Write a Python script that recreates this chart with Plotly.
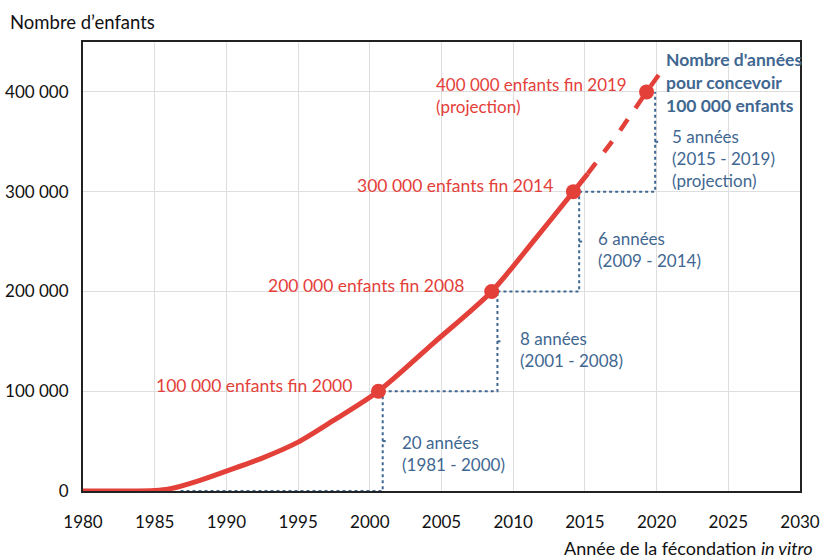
import plotly.graph_objects as go

RED = "#E4403A"
BLUE = "#3F6791"
FONT = "Lato"

# Cumulative births curve (solid part)
curve_years = [1980, 1983, 1985, 1986, 1988, 1990, 1992.5, 1995, 1997.5, 2000.6, 2004.5, 2008.5, 2011.5, 2014.2, 2015.2]
curve_values = [0, 0, 500, 2000, 10000, 20000, 33000, 49000, 71000, 100000, 149000, 200000, 252000, 300000, 318000]

# Projection (dashed)
proj_years = [2015.2, 2017.3, 2019.3, 2020.3]
proj_values = [318000, 358000, 400000, 420000]

# Milestones
milestone_years = [2000.6, 2008.5, 2014.2, 2019.3]
milestone_values = [100000, 200000, 300000, 400000]
milestone_labels = ["100 000 enfants fin 2000", "200 000 enfants fin 2008",
                    "300 000 enfants fin 2014", "400 000 enfants fin 2019<br>(projection)"]

# Brackets (years needed for each 100 000)
bracket_start = [1986.8, 2000.9, 2008.9, 2014.6]
bracket_end = [2000.9, 2008.9, 2014.6, 2019.9]
bracket_low = [0, 100000, 200000, 300000]
bracket_high = [100000, 200000, 300000, 400000]
bracket_labels = ["20 années<br>(1981 - 2000)", "8 années<br>(2001 - 2008)",
                  "6 années<br>(2009 - 2014)", "5 années<br>(2015 - 2019)<br>(projection)"]

x_ticks = list(range(1980, 2031, 5))
y_ticks = [0, 100000, 200000, 300000, 400000]
y_tick_labels = ["0", "100 000", "200 000", "300 000", "400 000"]

fig = go.Figure()

# brackets
for s, e, lo, hi in zip(bracket_start, bracket_end, bracket_low, bracket_high):
    mid = (lo + hi) / 2
    fig.add_trace(go.Scatter(x=[s, e, e], y=[lo, lo, hi], mode="lines",
                             line=dict(color=BLUE, width=2, dash="dot"),
                             hoverinfo="skip", showlegend=False))
    fig.add_trace(go.Scatter(x=[e, e + 0.4], y=[mid, mid], mode="lines",
                             line=dict(color=BLUE, width=2, dash="dot"),
                             hoverinfo="skip", showlegend=False))

fig.add_trace(go.Scatter(x=curve_years, y=curve_values, mode="lines",
                         line=dict(color=RED, width=5, shape="spline", smoothing=0.8),
                         showlegend=False))
fig.add_trace(go.Scatter(x=proj_years, y=proj_values, mode="lines",
                         line=dict(color=RED, width=4.5, dash="dash"),
                         showlegend=False))
fig.add_trace(go.Scatter(x=milestone_years, y=milestone_values, mode="markers",
                         marker=dict(color=RED, size=15),
                         showlegend=False))

# labels
red_pos = [(1998.9, 106000, "right"), (2006.7, 206000, "right"),
           (2012.9, 306000, "right"), (2004.5, 396000, "left")]
red_sizes = [17.5, 17.5, 17.5, 17]
for (x, y, anc), t, sz in zip(red_pos, milestone_labels, red_sizes):
    fig.add_annotation(x=x, y=y, text=t, showarrow=False, xanchor=anc, yanchor="middle",
                       align="left", font=dict(family=FONT, size=sz, color=RED))

blue_pos = [(2002.1, 38000), (2010.3, 142000), (2015.8, 242000), (2020.9, 333000)]
for (x, y), t in zip(blue_pos, bracket_labels):
    fig.add_annotation(x=x, y=y, text=t, showarrow=False, xanchor="left", yanchor="middle",
                       align="left", font=dict(family=FONT, size=17, color=BLUE))

fig.add_annotation(x=2020.55, y=409000, text="<b>Nombre d'années<br>pour concevoir<br>100 000 enfants</b>",
                   showarrow=False, xanchor="left", yanchor="middle", align="left",
                   font=dict(family=FONT, size=17.5, color=BLUE))

fig.add_annotation(xref="paper", yref="paper", x=-0.1046, y=1.0445, text="Nombre d’enfants",
                   showarrow=False, xanchor="left", yanchor="middle",
                   font=dict(family=FONT, size=18.5, color="#111"))
fig.add_annotation(xref="paper", yref="paper", x=1.021, y=-0.127, text="Année de la fécondation <i>in vitro</i>",
                   showarrow=False, xanchor="right", yanchor="middle",
                   font=dict(family=FONT, size=18, color="#111"))

fig.update_layout(
    width=822, height=559,
    margin=dict(l=83, r=22, t=42, b=68),
    plot_bgcolor="white", paper_bgcolor="white",
    font=dict(family=FONT, size=17, color="#111"),
    xaxis=dict(range=[1980, 2030], tickvals=x_ticks, showgrid=True, gridcolor="#DEDEDE",
               gridwidth=1, showline=True, linecolor="#222", linewidth=2, mirror=True,
               ticks="", zeroline=False, ticklabelstandoff=15, automargin=False,
               tickfont=dict(size=17)),
    yaxis=dict(range=[0, 450000], tickvals=y_ticks, ticktext=y_tick_labels, showgrid=True,
               gridcolor="#DEDEDE", gridwidth=1, showline=True, linecolor="#222",
               linewidth=2, mirror=True, ticks="", zeroline=False, ticklabelstandoff=9,
               automargin=False, tickfont=dict(size=17)),
)

fig.write_html("out.html", config={"displayModeBar": False},
               post_script="document.body.style.margin='0';document.body.style.overflow='hidden';")
